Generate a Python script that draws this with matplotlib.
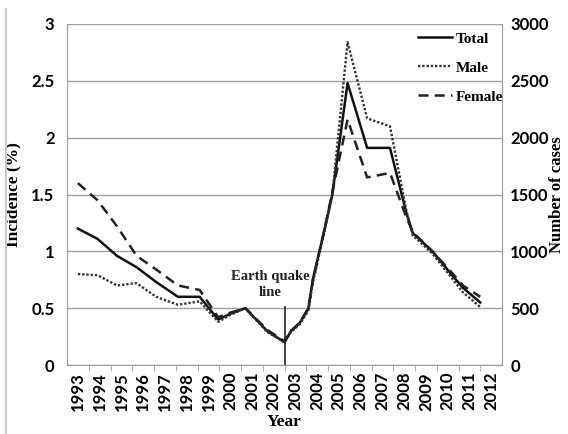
import matplotlib
matplotlib.use("Agg")
import matplotlib.pyplot as plt
from matplotlib.lines import Line2D

# ---- data ----
year_labels = list(range(1993, 2013))
years_tm = [1993.0, 1993.9, 1994.8, 1995.7, 1996.6, 1997.6, 1998.6, 1999.45, 2000.0,
            2000.7, 2001.7, 2002.5, 2002.8, 2003.2, 2003.6, 2003.8, 2004.3, 2004.7,
            2005.4, 2006.3, 2007.35, 2008.1, 2008.4, 2009.3, 2010.25, 2010.7, 2011.5]
total = [1.20, 1.11, 0.96, 0.86, 0.73, 0.60, 0.60, 0.40, 0.45,
         0.50, 0.30, 0.20, 0.30, 0.37, 0.50, 0.75, 1.16, 1.50,
         2.48, 1.91, 1.91, 1.34, 1.16, 1.00, 0.78, 0.68, 0.55]
male = [0.80, 0.79, 0.70, 0.72, 0.60, 0.53, 0.56, 0.38, 0.44,
        0.50, 0.29, 0.20, 0.29, 0.36, 0.48, 0.72, 1.14, 1.50,
        2.84, 2.17, 2.10, 1.36, 1.14, 0.98, 0.75, 0.64, 0.51]
female = [1.60, 1.45, 1.22, 0.96, 0.84, 0.70, 0.66, 0.42, 0.46,
          0.50, 0.31, 0.21, 0.30, 0.37, 0.50, 0.74, 1.16, 1.52,
          2.16, 1.65, 1.69, 1.30, 1.17, 1.00, 0.80, 0.70, 0.60]
years_f = [1993.0, 1993.9, 1994.8, 1995.7, 1996.6, 1997.6, 1998.6, 1999.45, 2000.0,
           2000.7, 2001.7, 2002.5, 2002.8, 2003.2, 2003.6, 2003.8, 2004.3, 2004.7,
           2005.4, 2006.3, 2007.35, 2008.1, 2008.4, 2009.3, 2010.25, 2010.7, 2011.5]
left_ticks = [0, 0.5, 1, 1.5, 2, 2.5, 3]
left_ticklabels = ["0", "0.5", "1", "1.5", "2", "2.5", "3"]
right_ticks = [0, 500, 1000, 1500, 2000, 2500, 3000]
quake_year = 2002.5
quake_top = 0.51

W, H = 568, 434
fig = plt.figure(figsize=(W / 100, H / 100), dpi=100)
ax = fig.add_axes([67 / W, 1 - 365 / H, (502 - 67) / W, (365 - 24) / H])

sans = "Lato"
serif = "Liberation Serif"
grid_c = "#a0a0a0"

ax.plot(years_tm, total, color="#111111", lw=1.8, ls="-", label="Total", solid_joinstyle="round")
ax.plot(years_tm, male, color="#333333", lw=1.7, ls=(0, (1, 0.8)), label="Male")
ax.plot(years_f, female, color="#222222", lw=1.8, ls=(0, (4, 2.5)), label="Female")

ax.set_xlim(1992.5, 2012.5)
ax.set_ylim(0, 3)
ax.set_yticks(left_ticks)
ax.set_yticklabels(left_ticklabels, fontsize=12, fontfamily=sans, fontweight="bold")
ax.yaxis.grid(True, color=grid_c, lw=1)
ax.set_axisbelow(True)
ax.tick_params(axis="y", length=0, pad=9)

ax.set_xticks(year_labels)
ax.set_xticklabels([str(y) for y in year_labels], rotation=90, fontsize=12,
                   fontfamily=sans, fontweight="bold")
ax.set_xticks([y + 0.5 for y in year_labels[:-1]], minor=True)
ax.tick_params(axis="x", which="major", length=0, pad=5)
ax.tick_params(axis="x", which="minor", length=4, color=grid_c)

for s in ["left", "bottom", "right", "top"]:
    ax.spines[s].set_color(grid_c)
ax.spines["top"].set_visible(False)

# earthquake line
ax.plot([quake_year, quake_year], [0, quake_top], color="#222222", lw=1.2)
ax.text(2001.85, 0.71, "Earth quake\nline", ha="center", va="center", fontsize=10.5,
        fontfamily=serif, fontweight="bold", linespacing=1.3, color="#222222")

ax.set_ylabel("Incidence (%)", fontsize=12.5, fontfamily=serif, fontweight="bold")
ax.yaxis.set_label_coords((21 - 67) / (502 - 67), 0.5)
ax.set_xlabel("Year", fontsize=12.5, fontfamily=serif, fontweight="bold")
ax.xaxis.set_label_coords(0.5, -(414 - 365) / (365 - 24))

ax2 = ax.twinx()
ax2.set_ylim(0, 3000)
ax2.set_yticks(right_ticks)
ax2.set_yticklabels([str(v) for v in right_ticks], fontsize=12, fontfamily=sans, fontweight="bold")
ax2.tick_params(axis="y", length=0, pad=6)
for s in ["left", "bottom", "right", "top"]:
    ax2.spines[s].set_color(grid_c)
ax2.spines["top"].set_visible(False)
ax2.set_ylabel("Number of cases", fontsize=12, fontfamily=serif, fontweight="bold",
               rotation=90)
ax2.yaxis.set_label_coords((549 - 67) / (502 - 67), 0.5)

leg = ax.legend(loc="upper left", bbox_to_anchor=(418 / W, 1 - 32 / H),
                bbox_transform=fig.transFigure, frameon=False, borderpad=0,
                borderaxespad=0, handlelength=2.2, handletextpad=0.3, labelspacing=1.0,
                prop={"family": serif, "weight": "bold", "size": 11})

fig.add_artist(Line2D([6 / W, 6 / W], [0, 0.98], color="#c8c8c8", lw=1.5))

fig.savefig("out.png", dpi=100, facecolor="white")
